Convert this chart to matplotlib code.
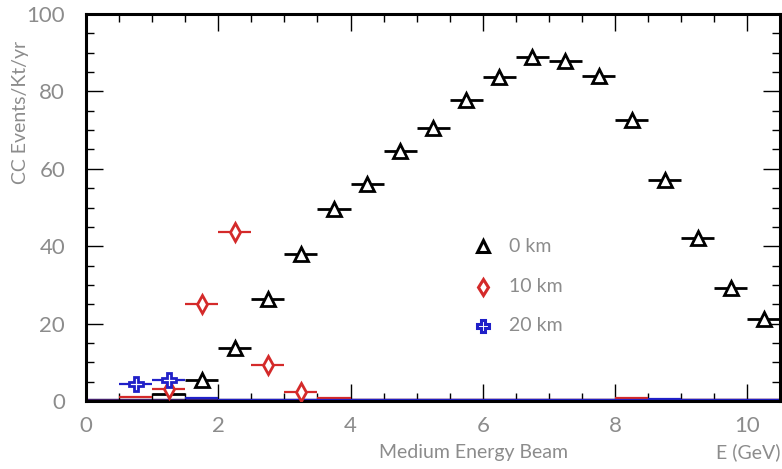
import numpy as np
import matplotlib.pyplot as plt
from matplotlib.ticker import MultipleLocator

# energy bins (GeV), 0.5 GeV wide
e_centers = np.arange(0.25, 10.5, 0.5)
half_width = 0.25

# CC events per kt per year for each off-axis distance
events_0km = [0.0, 0.0, 1.8, 5.4, 13.7, 26.4, 38.0, 49.7, 56.0, 64.5, 70.5,
              77.7, 83.7, 89.0, 88.0, 84.0, 72.5, 57.0, 42.2, 29.3, 21.2]
events_10km = [0.0, 1.0, 3.0, 25.0, 43.7, 9.4, 2.3, 0.8, 0.3, 0.3, 0.3,
               0.3, 0.3, 0.3, 0.3, 0.3, 0.8, 0.3, 0.2, 0.2, 0.2]
events_20km = [0.0, 4.4, 5.4, 0.9, 0.2, 0.2, 0.2, 0.2, 0.2, 0.2, 0.2,
               0.2, 0.2, 0.2, 0.2, 0.3, 0.3, 0.5, 0.2, 0.2, 0.2]

series = [
    ('0 km', events_0km, 'black', '^', 10, 2.0),
    ('10 km', events_10km, '#d42a2a', 'd', 9, 1.6),
    ('20 km', events_20km, '#2020c8', 'P', 10, 1.6),
]

grey = '#8c8c8c'
plt.rcParams['font.family'] = ['Lato', 'DejaVu Sans']

fig = plt.figure(figsize=(7.82, 4.69), dpi=100)
ax = fig.add_axes([0.110, 0.145, 0.888, 0.825])

for label, vals, color, marker, ms, lw in series:
    vals = np.asarray(vals)
    # horizontal bin-width bars for every bin
    ax.errorbar(e_centers, vals, xerr=half_width, fmt='none',
                ecolor=color, elinewidth=lw, capsize=0, zorder=2)
    # open markers only where the content is visible above the floor
    show = vals >= 2
    ax.plot(e_centers[show], vals[show], linestyle='none', marker=marker,
            markersize=ms, markerfacecolor='white', markeredgecolor=color,
            markeredgewidth=2.0, zorder=3)

# dark floor line along zero
ax.axhline(0.3, color='#3a1f6a', linewidth=2.5, zorder=1)

# hand-placed key
key_x, text_x = 6.0, 6.4
key_y = [40, 29.5, 19.5]
for (label, vals, color, marker, ms, lw), ky in zip(series, key_y):
    ax.plot([key_x], [ky], linestyle='none', marker=marker, markersize=ms - 1,
            markerfacecolor='white', markeredgecolor=color, markeredgewidth=2.2)
    ax.text(text_x, ky, label, color=grey, fontsize=14, va='center', ha='left')

ax.set_xlim(0, 10.5)
ax.set_ylim(0, 100)
ax.xaxis.set_major_locator(MultipleLocator(2))
ax.xaxis.set_minor_locator(MultipleLocator(0.5))
ax.yaxis.set_major_locator(MultipleLocator(20))
ax.yaxis.set_minor_locator(MultipleLocator(5))
ax.tick_params(which='both', direction='in', top=True, right=True,
               color='black', width=1.0)
ax.tick_params(which='major', length=12, labelsize=16, labelcolor=grey)
ax.tick_params(which='minor', length=6)
ax.tick_params(axis='x', which='major', pad=11)
ax.tick_params(axis='y', which='major', pad=15)
for spine in ax.spines.values():
    spine.set_linewidth(2.2)

fig.text(0.026, 0.76, 'CC Events/Kt/yr', color=grey, fontsize=14,
         rotation=90, ha='center', va='center')
fig.text(0.605, 0.035, 'Medium Energy Beam', color=grey, fontsize=14,
         ha='center', va='center')
fig.text(0.998, 0.035, 'E (GeV)', color=grey, fontsize=14,
         ha='right', va='center')

fig.savefig('out.png', dpi=100)
